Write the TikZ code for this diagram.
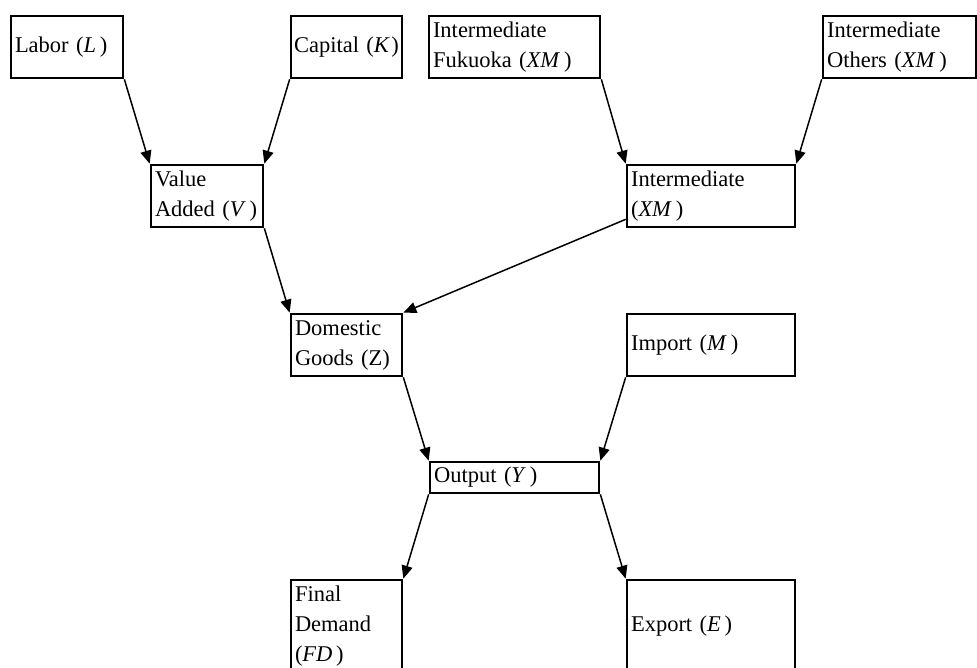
\documentclass[tikz,border=0pt]{standalone}
\usepackage{fontspec}
\setmainfont{Liberation Serif}
\usetikzlibrary{arrows.meta}
\definecolor{ki}{HTML}{000000}

\begin{document}
\begin{tikzpicture}[x=1pt,y=-1pt,
  box/.style={draw=ki,line width=2.7pt,rectangle,inner xsep=4pt,inner ysep=0pt,
    align=left,font=\fontsize{22.5}{30}\selectfont,minimum height=62pt},
  link/.style={draw=ki,line width=1.5pt,-{Triangle[length=13pt,width=11pt]}}]
  % Page
  \useasboundingbox[fill=white] (0,0) rectangle (977,668);

  % Top row (factors and intermediate inputs)
  \node[box,text width=104pt,minimum width=112pt] (labor) at (67,47) {Labor (\textit{L}\,)};
  \node[box,text width=105pt,minimum width=111pt,inner xsep=3pt] (capital) at (346.5,47) {Capital (\textit{K}\hspace{1.5pt})};
  \node[box,text width=163pt,minimum width=171pt] (fukuoka) at (514.5,47) {Intermediate\\Fukuoka (\textit{XM}\,)};
  \node[box,text width=145pt,minimum width=153pt] (others) at (899.5,47) {Intermediate\\Others (\textit{XM}\,)};

  % Second row
  \node[box,text width=104pt,minimum width=112pt] (va) at (207,196) {Value\\Added (\textit{V}\,)};
  \node[box,text width=160pt,minimum width=168pt] (xm) at (711,196) {Intermediate\\(\textit{XM}\,)};

  % Third row
  \node[box,text width=103pt,minimum width=111pt] (dom) at (346.5,345) {Domestic\\Goods (Z)};
  \node[box,text width=160pt,minimum width=168pt] (imp) at (711,345) {Import (\textit{M}\,)};

  % Output
  \node[box,text width=161pt,minimum width=169pt,minimum height=31pt] (out) at (514.5,477.5) {Output (\textit{Y}\,)};

  % Bottom row (runs off the page)
  \node[box,text width=103pt,minimum width=111pt,minimum height=92pt] (fd) at (346.5,626) {Final\\Demand\\(\textit{FD}\,)};
  \node[box,text width=160pt,minimum width=168pt,minimum height=92pt] (exp) at (711,626) {Export (\textit{E}\,)};

  % Connectors
  \draw[link] (labor.south east) -- (va.north west);
  \draw[link] (capital.south west) -- (va.north east);
  \draw[link] (fukuoka.south east) -- (xm.north west);
  \draw[link] (others.south west) -- (xm.north east);
  \draw[link] (va.south east) -- (dom.north west);
  \draw[link] ([yshift=9pt]xm.south west) -- (dom.north east);
  \draw[link] (dom.south east) -- (out.north west);
  \draw[link] (imp.south west) -- (out.north east);
  \draw[link] (out.south west) -- (fd.north east);
  \draw[link] (out.south east) -- (exp.north west);
\end{tikzpicture}
\end{document}
